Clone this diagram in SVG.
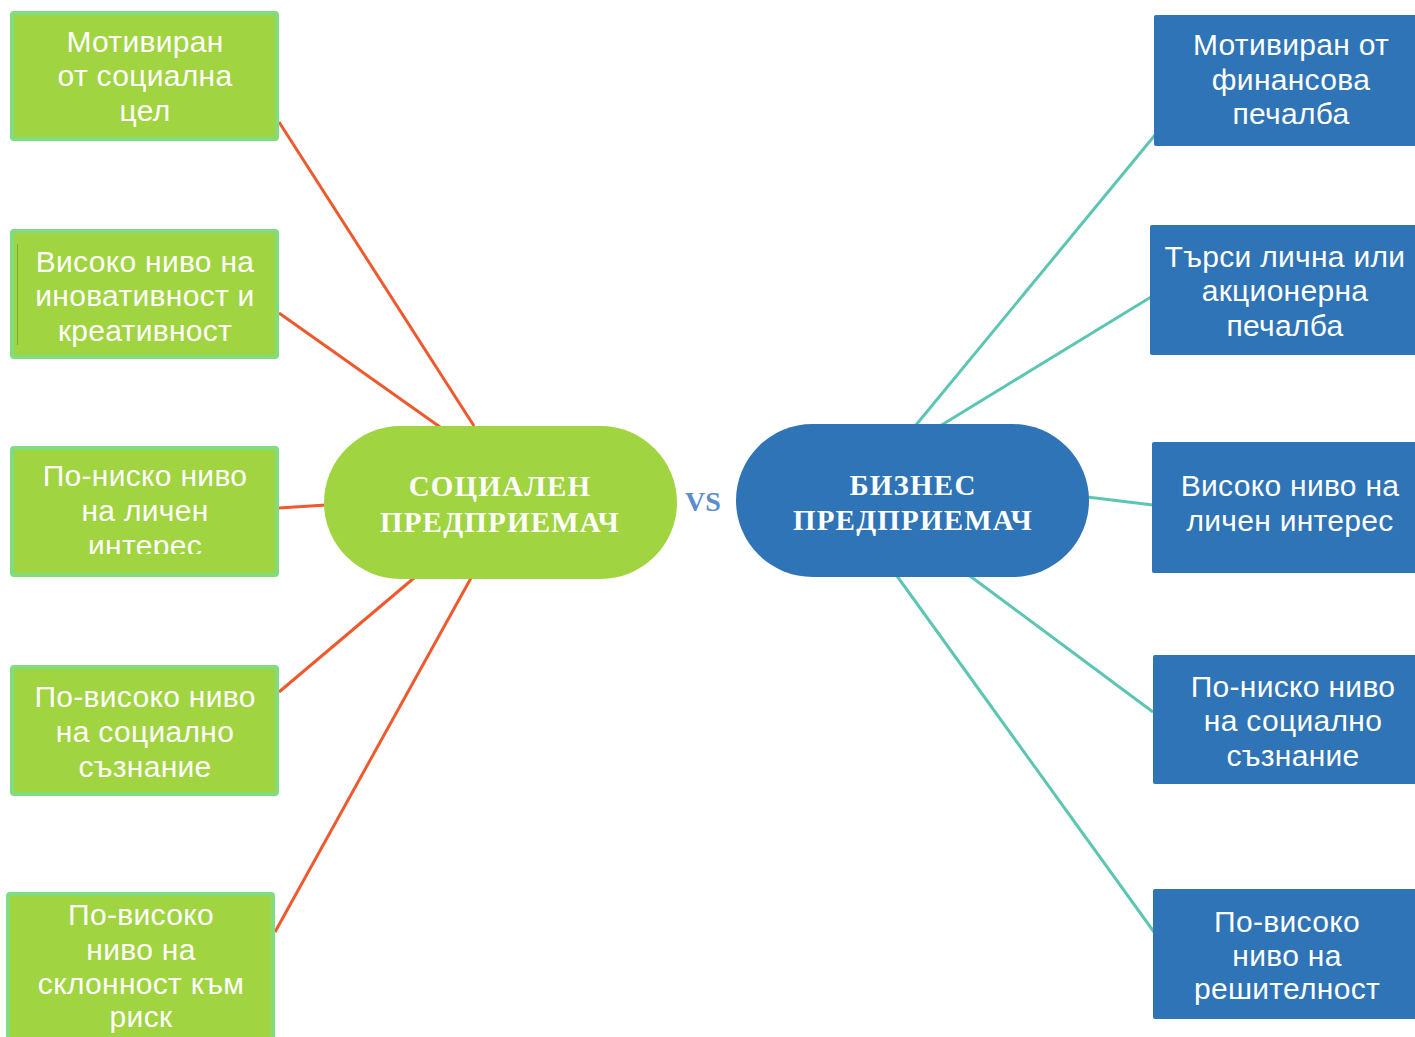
<svg xmlns="http://www.w3.org/2000/svg" width="1415" height="1037" viewBox="0 0 1415 1037">
  <defs>
    <style>
      .bg { fill: #ffffff; }
      .link-soc { stroke: #ee5a2e; stroke-width: 3; fill: none; }
      .link-bus { stroke: #5cc6b3; stroke-width: 3; fill: none; }
      .leaf-soc rect { fill: #a0d440; stroke: #80dc7e; stroke-width: 4; }
      .leaf-bus rect { fill: #2e74b6; }
      .leaf text { font-family: "Liberation Sans", Arial, sans-serif; font-size: 30px; letter-spacing: 0.3px; fill: #ffffff; text-anchor: middle; }
      .hub text { font-family: "Liberation Serif", "Times New Roman", serif; font-weight: bold; font-size: 29px; fill: #ffffff; text-anchor: middle; letter-spacing: 1.2px; }
      .vs { font-family: "Liberation Serif", "Times New Roman", serif; font-weight: bold; font-size: 28px; fill: #5b8dcc; }
    </style>
    <clipPath id="clip-soc3">
      <rect x="12" y="448" width="265" height="106"/>
    </clipPath>
  </defs>

  <rect class="bg" x="0" y="0" width="1415" height="1037"/>

  <!-- connectors -->
  <g id="connectors">
    <line class="link-soc" x1="279" y1="122" x2="474" y2="426"/>
    <line class="link-soc" x1="279" y1="313" x2="440" y2="427"/>
    <line class="link-soc" x1="279" y1="508" x2="326" y2="505"/>
    <line class="link-soc" x1="279" y1="692" x2="414" y2="578"/>
    <line class="link-soc" x1="275" y1="932" x2="471" y2="578"/>
    <line class="link-bus" x1="916" y1="425" x2="1155" y2="135"/>
    <line class="link-bus" x1="940" y1="426" x2="1151" y2="297"/>
    <line class="link-bus" x1="1087" y1="497" x2="1153" y2="505"/>
    <line class="link-bus" x1="970" y1="576" x2="1153" y2="712"/>
    <line class="link-bus" x1="897" y1="576" x2="1154" y2="932"/>
  </g>

  <!-- central nodes -->
  <g id="hub-social" class="hub">
    <rect x="324" y="426" width="353" height="153" rx="76.5" fill="#a0d440"/>
    <text x="500" y="496">СОЦИАЛЕН</text>
    <text x="500" y="532">ПРЕДПРИЕМАЧ</text>
  </g>
  <text id="vs" class="vs" x="685" y="511">VS</text>
  <g id="hub-business" class="hub">
    <rect x="736" y="424" width="353" height="153" rx="76.5" fill="#2e74b6"/>
    <text x="913" y="495">БИЗНЕС</text>
    <text x="913" y="530">ПРЕДПРИЕМАЧ</text>
  </g>

  <!-- social entrepreneur traits -->
  <g id="soc-1" class="leaf leaf-soc">
    <rect x="12" y="13" width="265" height="126" rx="2"/>
    <text x="145" y="52">Мотивиран</text>
    <text x="145" y="86">от социална</text>
    <text x="145" y="121">цел</text>
  </g>
  <g id="soc-2" class="leaf leaf-soc">
    <rect x="12" y="231" width="265" height="126" rx="2"/>
    <line x1="17.5" y1="244" x2="17.5" y2="345" stroke="#7aa83a" stroke-width="1"/>
    <text x="145" y="272">Високо ниво на</text>
    <text x="145" y="306">иновативност и</text>
    <text x="145" y="341">креативност</text>
  </g>
  <g id="soc-3" class="leaf leaf-soc">
    <rect x="12" y="448" width="265" height="127" rx="2"/>
    <g clip-path="url(#clip-soc3)">
      <text x="145" y="486">По-ниско ниво</text>
      <text x="145" y="521">на личен</text>
      <text x="145" y="556">интерес</text>
    </g>
  </g>
  <g id="soc-4" class="leaf leaf-soc">
    <rect x="12" y="667" width="265" height="127" rx="2"/>
    <text x="145" y="707">По-високо ниво</text>
    <text x="145" y="742">на социално</text>
    <text x="145" y="777">съзнание</text>
  </g>
  <g id="soc-5" class="leaf leaf-soc">
    <rect x="8" y="894" width="265" height="150" rx="2"/>
    <text x="141" y="925">По-високо</text>
    <text x="141" y="960">ниво на</text>
    <text x="141" y="994">склонност към</text>
    <text x="141" y="1027">риск</text>
  </g>

  <!-- business entrepreneur traits -->
  <g id="bus-1" class="leaf leaf-bus">
    <rect x="1154" y="15" width="270" height="131" rx="2"/>
    <text x="1291" y="55">Мотивиран от</text>
    <text x="1291" y="90">финансова</text>
    <text x="1291" y="124">печалба</text>
  </g>
  <g id="bus-2" class="leaf leaf-bus">
    <rect x="1150" y="225" width="270" height="130" rx="2"/>
    <rect x="1150" y="240" width="5" height="105" fill="#2a69a6"/>
    <text x="1285" y="267">Търси лична или</text>
    <text x="1285" y="301">акционерна</text>
    <text x="1285" y="336">печалба</text>
  </g>
  <g id="bus-3" class="leaf leaf-bus">
    <rect x="1152" y="442" width="270" height="131" rx="2"/>
    <text x="1290" y="496">Високо ниво на</text>
    <text x="1290" y="531">личен интерес</text>
  </g>
  <g id="bus-4" class="leaf leaf-bus">
    <rect x="1153" y="655" width="270" height="129" rx="2"/>
    <text x="1293" y="697">По-ниско ниво</text>
    <text x="1293" y="731">на социално</text>
    <text x="1293" y="766">съзнание</text>
  </g>
  <g id="bus-5" class="leaf leaf-bus">
    <rect x="1153" y="889" width="270" height="130" rx="2"/>
    <text x="1287" y="932">По-високо</text>
    <text x="1287" y="966">ниво на</text>
    <text x="1287" y="999">решителност</text>
  </g>
</svg>
